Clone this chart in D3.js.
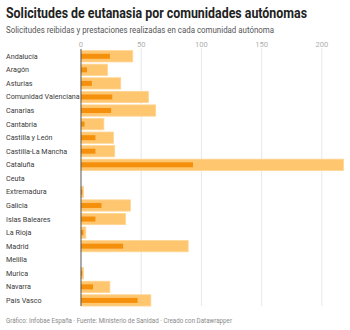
<!DOCTYPE html>
<html>
<head>
<meta charset="utf-8">
<script src="https://cdn.jsdelivr.net/npm/d3@7"></script>
<style>
  html, body { margin: 0; padding: 0; background: #fff; }
  svg { display: block; font-family: Roboto, "Noto Sans", sans-serif; }
</style>
</head>
<body>
<svg id="chart" width="350" height="330"></svg>
<script>
// Comunidades autónomas y valores de solicitudes / prestaciones
const comunidades = [
  "Andalucía", "Aragón", "Asturias", "Comunidad Valenciana", "Canarias",
  "Cantabria", "Castilla y León", "Castilla-La Mancha", "Cataluña", "Ceuta",
  "Extremadura", "Galicia", "Islas Baleares", "La Rioja", "Madrid",
  "Melilla", "Murica", "Navarra", "País Vasco"
];
const solicitudes = [43, 22, 33, 56, 62, 19, 27, 28, 218, 0, 2, 41, 37, 4, 89, 0, 2, 24, 58];
const prestaciones = [24, 5, 9, 26, 25, 3, 12, 12, 93, 0, 1, 17, 12, 2, 35, 0, 1, 10, 47];
const ticks = [0, 50, 100, 150, 200];

const svg = d3.select("#chart");

// Title block
svg.append("text").attr("x", 6).attr("y", 18)
  .attr("font-size", 14).attr("font-weight", 700).attr("fill", "#222")
  .attr("textLength", 301).attr("lengthAdjust", "spacingAndGlyphs")
  .text("Solicitudes de eutanasia por comunidades autónomas");
svg.append("text").attr("x", 6).attr("y", 33)
  .attr("font-size", 8.4).attr("fill", "#555")
  .attr("textLength", 268).attr("lengthAdjust", "spacingAndGlyphs")
  .text("Solicitudes reibidas y prestaciones realizadas en cada comunidad autónoma");

const x = d3.scaleLinear().domain([0, 218.4]).range([81, 344]);
const y = d3.scaleBand().domain(comunidades).range([49.5, 307.2]).paddingInner(0.17).paddingOuter(0.085);

// Gridlines
svg.append("g").selectAll("line").data(ticks.slice(1)).join("line")
  .attr("x1", d => x(d)).attr("x2", d => x(d))
  .attr("y1", 48).attr("y2", 306)
  .attr("stroke", "#e8e8e8").attr("stroke-width", 1);

// Tick labels on top
svg.append("g").selectAll("text").data(ticks).join("text")
  .attr("x", d => x(d)).attr("y", 47)
  .attr("text-anchor", "middle").attr("font-size", 7.6).attr("fill", "#b0b0b0")
  .text(d => d);

// Outer bars: solicitudes
svg.append("g").selectAll("rect").data(comunidades).join("rect")
  .attr("x", x(0))
  .attr("y", d => y(d))
  .attr("width", (d, i) => x(solicitudes[i]) - x(0))
  .attr("height", y.bandwidth())
  .attr("fill", "#ffc670")
  .attr("stroke", "#ffd593").attr("stroke-width", 0.8);

// Inner bars: prestaciones
const innerH = 5;
svg.append("g").selectAll("rect").data(comunidades).join("rect")
  .attr("x", x(0))
  .attr("y", d => y(d) + (y.bandwidth() - innerH) / 2)
  .attr("width", (d, i) => x(prestaciones[i]) - x(0))
  .attr("height", innerH)
  .attr("fill", "#f5900c");

// Zero axis line
svg.append("line")
  .attr("x1", x(0)).attr("x2", x(0)).attr("y1", 49).attr("y2", 306)
  .attr("stroke", "#555").attr("stroke-width", 1);

// Category labels
svg.append("g").selectAll("text").data(comunidades).join("text")
  .attr("x", 6).attr("y", d => y(d) + y.bandwidth() / 2)
  .attr("dy", "0.35em")
  .attr("font-size", 7.2).attr("fill", "#3a3a3a")
  .text(d => d);

// Footer
svg.append("text").attr("x", 6).attr("y", 323)
  .attr("font-size", 6.8).attr("fill", "#8a8a8a")
  .attr("textLength", 226).attr("lengthAdjust", "spacingAndGlyphs")
  .text("Gráfico: Infobae España · Fuente: Ministerio de Sanidad · Creado con Datawrapper");
</script>
</body>
</html>
